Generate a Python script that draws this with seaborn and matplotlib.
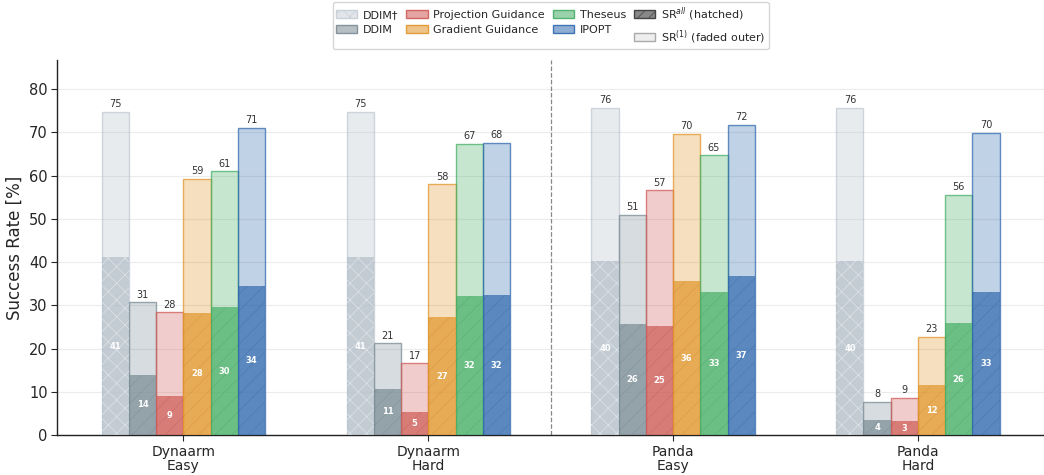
import numpy as np
import pandas as pd
import matplotlib
matplotlib.use("Agg")
import matplotlib.pyplot as plt
import seaborn as sns
from matplotlib.patches import Patch
from matplotlib.colors import to_rgb

groups = ["Dynaarm\nEasy", "Dynaarm\nHard", "Panda\nEasy", "Panda\nHard"]
methods = ["DDIM\u2020", "DDIM", "Projection Guidance", "Gradient Guidance", "Theseus", "IPOPT"]

sr1_ddim_dagger = [74.7, 74.7, 75.6, 75.6]
srall_ddim_dagger = [41.2, 41.2, 40.2, 40.2]
sr1_ddim = [30.7, 21.2, 51.0, 7.6]
srall_ddim = [14.0, 10.7, 25.8, 3.6]
sr1_proj = [28.4, 16.6, 56.6, 8.6]
srall_proj = [9.1, 5.4, 25.3, 3.2]
sr1_grad = [59.2, 58.0, 69.6, 22.8]
srall_grad = [28.3, 27.3, 35.6, 11.6]
sr1_theseus = [61.0, 67.3, 64.7, 55.6]
srall_theseus = [29.6, 32.1, 33.0, 25.9]
sr1_ipopt = [71.1, 67.6, 71.7, 69.9]
srall_ipopt = [34.4, 32.4, 36.9, 33.1]

base_colors = ["#b4bfc9", "#7a8b95", "#cf5b56", "#e2952a", "#46af66", "#316aaf"]

sr1_all = [sr1_ddim_dagger, sr1_ddim, sr1_proj, sr1_grad, sr1_theseus, sr1_ipopt]
srall_all = [srall_ddim_dagger, srall_ddim, srall_proj, srall_grad, srall_theseus, srall_ipopt]

rows = []
for m, s1, sa in zip(methods, sr1_all, srall_all):
    for g, v1, va in zip(groups, s1, sa):
        rows.append({"group": g, "method": m, "sr1": v1, "srall": va})
df = pd.DataFrame(rows)

sns.set_theme(style="white")
plt.rcParams["font.family"] = ["DejaVu Sans"]
plt.rcParams["hatch.linewidth"] = 0.5

fig = plt.figure(figsize=(10.44, 4.75), dpi=100)
ax = fig.add_axes([0.055, 0.084, 0.945, 0.79])

pal = dict(zip(methods, base_colors))
width = 0.667
sns.barplot(data=df, x="group", y="sr1", hue="method", order=groups, hue_order=methods,
            palette=pal, width=width, errorbar=None, saturation=1, legend=False, ax=ax, zorder=2)
sns.barplot(data=df, x="group", y="srall", hue="method", order=groups, hue_order=methods,
            palette=pal, width=width, errorbar=None, saturation=1, legend=False, ax=ax, zorder=3)

n = len(methods)
outer_conts = ax.containers[:n]
inner_conts = ax.containers[n:2 * n]

for i, cont in enumerate(outer_conts):
    c = to_rgb(base_colors[i])
    for p in cont.patches:
        p.set_facecolor((*c, 0.3))
        p.set_edgecolor((*c, 0.75) if i > 0 else (*c, 0.6))
        p.set_linewidth(1.0)
        p.set_zorder(2)
    ax.bar_label(cont, labels=[f"{v:.0f}" for v in sr1_all[i]], padding=2,
                 fontsize=7, color="#333333")

for i, cont in enumerate(inner_conts):
    c = np.array(to_rgb(base_colors[i]))
    for p in cont.patches:
        p.set_facecolor((*c, 0.71))
        if i == 0:
            p.set_hatch("xx")
            p.set_edgecolor("#dfe4e9")
        else:
            p.set_hatch("//")
            p.set_edgecolor((*(c * 0.85), 0.3))
        p.set_linewidth(0)
        p.set_zorder(3)
    ax.bar_label(cont, labels=[f"{v:.0f}" for v in srall_all[i]], label_type="center",
                 fontsize=6, color="white", fontweight="bold")

ax.axvline(1.5, color="#888888", linestyle="--", linewidth=0.9, zorder=1)

ax.set_ylim(0, 86.8)
ax.set_xlim(-0.515, 3.515)
ax.set_yticks(np.arange(0, 81, 10))
ax.set_ylabel("Success Rate [%]", fontsize=12)
ax.set_xlabel("")
ax.tick_params(axis="y", labelsize=10.5, left=True, length=4, width=0.8, pad=3)
ax.tick_params(axis="x", labelsize=10, bottom=True, length=4, width=0.8, pad=3)
for lbl in ax.get_xticklabels():
    lbl.set_linespacing(1.05)
ax.yaxis.grid(True, color="#ececec", linewidth=0.8, zorder=0)
ax.set_axisbelow(True)
sns.despine(ax=ax)
for s in ["left", "bottom"]:
    ax.spines[s].set_color("#222222")
    ax.spines[s].set_linewidth(1.0)

handles = []
for i, m in enumerate(methods):
    c = to_rgb(base_colors[i])
    if i == 0:
        handles.append(Patch(facecolor=(*c, 0.4), edgecolor="#c9d1d8", hatch="xx", label=m))
    else:
        handles.append(Patch(facecolor=(*c, 0.55), edgecolor=(*c, 0.9), label=m))
handles.append(Patch(facecolor="#888888", edgecolor="#444444", hatch="///", label="SR$^{all}$ (hatched)"))
handles.append(Patch(facecolor="#eeeeee", edgecolor="#aaaaaa", label="SR$^{(1)}$ (faded outer)"))

ax.legend(handles=handles, loc="upper center", bbox_to_anchor=(0.5, 1.155), ncol=4,
          fontsize=8, frameon=True, edgecolor="#cccccc", handlelength=1.9, handleheight=0.7,
          columnspacing=0.75, handletextpad=0.5, borderpad=0.3, labelspacing=0.5,
          borderaxespad=0)

fig.savefig("out.png", dpi=100)
